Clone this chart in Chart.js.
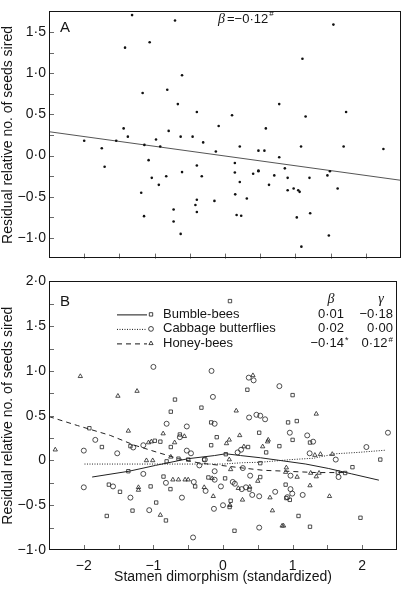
<!DOCTYPE html>
<html>
<head>
<meta charset="utf-8">
<title>Stamen dimorphism and seeds sired</title>
<script src="https://cdn.jsdelivr.net/npm/chart.js@4.4.1/dist/chart.umd.min.js"></script>
<style>
  body { margin: 0; background: #fff; }
  #wrap { position: relative; width: 405px; height: 589px; }
  canvas { position: absolute; left: 0; }
  #chartA { top: 0; }
  #chartB { top: 270px; }
</style>
</head>
<body>
<div id="wrap">
  <canvas id="chartA" width="405" height="270"></canvas>
  <canvas id="chartB" width="405" height="319"></canvas>
</div>
<script>
// ---- panel A: all pollinators pooled ----
var a_x = [-1.32,-0.71,-1.07,-1.42,-0.61,-0.82,-1.17,-0.67,-0.40,-0.09,-1.44,-0.80,-1.38,-0.63,-0.46,-2.00,-1.545,-0.98,-0.31,-1.75,
           -1.145,-0.92,-0.13,-1.71,-1.085,-0.40,-0.61,-0.33,-1.04,-0.835,-0.94,-1.19,-0.15,-0.40,-0.42,-0.40,-0.73,-1.15,-0.73,-0.63,
           1.54,1.10,0.77,0.10,1.145,1.72,0.58,0.21,0.475,0.56,1.08,1.685,2.25,0.77,0.14,0.14,0.40,0.475,0.475,0.70,
           0.85,0.89,1.20,1.455,1.49,0.21,0.625,0.89,0.975,1.04,1.06,1.60,0.145,0.31,0.165,0.23,1.21,1.02,1.475,1.085]
var a_y = [1.705,1.64,1.375,1.31,0.975,0.80,0.76,0.625,0.53,0.36,0.33,0.30,0.23,0.23,0.23,0.18,0.18,0.195,0.16,0.09,
           0.13,0.11,0.05,-0.135,-0.055,-0.12,-0.20,-0.25,-0.27,-0.25,-0.355,-0.45,-0.55,-0.535,-0.60,-0.685,-0.655,-0.735,-0.80,-0.95,
           1.59,1.175,0.625,0.49,0.475,0.53,0.33,0.11,0.06,0.06,0.11,0.11,0.08,-0.02,-0.09,-0.205,-0.22,-0.18,-0.19,-0.24,
           -0.155,-0.27,-0.27,-0.24,-0.19,-0.32,-0.355,-0.42,-0.40,-0.42,-0.44,-0.40,-0.47,-0.52,-0.72,-0.73,-0.70,-0.75,-0.97,-1.105]
var a_fit_x = [-2.5, 2.5]
var a_fit_y = [0.29, -0.30]

// ---- panel B: per pollinator ----
var bumble_x = [0.10,-0.69,0.35,1.00,-0.75,-0.31,0.935,1.06,-0.17,-1.92,-1.74,-1.67,-1.64,-1.48,-1.36,-1.30,-1.33,-0.98,-0.90,-1.04,
                -0.96,-0.855,-0.82,-0.81,-0.75,-0.755,-0.64,-0.62,-0.50,-0.40,-0.27,-0.21,-0.17,-0.09,0.03,0.04,0.11,0.095,0.165,0.36,
                0.38,0.52,0.535,0.535,0.62,0.81,0.90,0.91,0.96,1.00,1.085,1.25,1.25,1.65,1.755,1.86,1.975,2.26]
var bumble_y = [1.78,0.68,0.79,0.73,0.545,0.59,0.425,0.44,0.425,0.36,0.15,-0.62,-0.27,-0.35,-0.12,-0.56,0.16,0.22,0.21,-0.29,
                -0.47,-0.18,-0.67,-0.01,0.15,-0.32,0.02,0.29,0.01,-0.29,0.01,-0.19,0.17,0.26,-0.20,0.07,-0.45,-0.52,-0.785,0.15,
                -0.325,0.31,-0.03,-0.185,0.09,0.16,-0.27,-0.42,-0.44,0.23,-0.62,0.20,-0.74,-0.135,-0.14,-0.075,-0.64,0.01]
var cabbage_x = [-1.00,-0.165,0.37,0.44,0.81,-0.145,0.375,0.48,0.535,0.605,-0.81,-0.52,-0.12,-2.00,-2.00,-1.835,-1.58,-1.52,-1.33,-1.29,
                 -1.145,-1.145,-1.06,-0.82,-0.62,-0.59,-0.52,-0.46,-0.43,-0.42,-0.34,-0.26,-0.25,-0.12,-0.12,-0.13,-0.03,0.00,0.14,0.17,
                 0.21,0.26,0.285,0.27,0.33,0.39,0.42,0.52,0.52,0.75,0.96,0.97,0.97,0.995,0.925,1.145,1.21,1.245,1.295,1.62,
                 1.66,2.06,2.37]
var cabbage_y = [1.045,1.00,0.925,0.895,0.83,0.71,0.48,0.51,0.50,0.46,0.41,0.38,0.41,0.11,-0.30,0.23,-0.29,0.08,-0.415,0.145,
                 0.17,-0.15,-0.555,-0.25,0.26,-0.415,0.11,0.08,-0.86,-0.24,-0.055,0.01,-0.34,-0.12,-0.215,-0.54,-0.29,-0.50,-0.24,-0.26,
                 0.09,0.12,-0.085,-0.32,-0.30,-0.17,-0.385,-0.40,-0.75,-0.35,0.31,-0.17,-0.32,-0.37,-0.41,-0.385,0.28,0.08,0.21,0.01,
                 -0.185,0.15,0.31]
var honey_x = [-2.05,-1.51,-1.235,0.43,0.19,1.34,-2.41,-1.36,-1.215,-1.215,-1.10,-1.01,-1.07,-1.03,-0.90,-0.86,-0.75,-0.72,-0.64,-0.695,
               -0.555,-0.545,-0.50,-0.27,-0.155,-0.14,0.05,0.09,0.09,0.11,0.10,0.22,0.24,0.28,0.30,0.385,0.50,0.57,0.64,0.65,
               0.675,0.71,0.85,0.87,0.90,0.91,1.065,1.25,1.26,1.34,1.38,1.32,1.40,1.53,1.57]
var honey_y = [0.94,0.72,0.775,0.95,0.555,0.52,0.12,0.33,-0.30,-0.33,0.00,0.00,0.20,0.21,-0.61,0.30,0.04,-0.215,-0.215,0.20,
               0.27,-0.215,-0.215,-0.30,-0.20,-0.40,0.19,0.23,0.01,-0.10,-0.50,-0.31,0.28,-0.44,0.155,-0.295,-0.23,0.155,0.21,0.23,
               -0.415,-0.56,-0.73,-0.73,-0.13,-0.08,-0.185,-0.28,-0.14,-0.18,-0.14,0.06,0.07,-0.40,0.07]

var bumble_fit_x = [-1.88,-1.35,-0.97,-0.5,-0.12,0.04,0.25,0.54,0.82,1.19,1.52,1.85,2.24]
var bumble_fit_y = [-0.185,-0.12,-0.055,0.02,0.055,0.075,0.055,0.03,0.0,-0.04,-0.09,-0.15,-0.22]
var cabbage_fit_x = [-1.99,-1.0,0.0,0.28,0.54,0.98,1.3,1.62,1.94,2.34]
var cabbage_fit_y = [-0.04,-0.04,-0.04,-0.025,-0.02,0.01,0.025,0.075,0.09,0.115]
var honey_fit_x = [-2.5,-2.09,-1.62,-1.27,-0.94,-0.64,-0.33,-0.03,0.29,0.58,0.91,1.33,1.76]
var honey_fit_y = [0.49,0.39,0.28,0.17,0.09,0.02,-0.03,-0.055,-0.085,-0.11,-0.12,-0.135,-0.135]

var legend_names = ['Bumble-bees', 'Cabbage butterflies', 'Honey-bees']
var beta_vals = ['0·01', '0·02', '−0·14']
var beta_marks = ['', '', '*']
var gamma_vals = ['−0·18', '0·00', '0·12']
var gamma_marks = ['', '', '#']

var y_title = 'Residual relative no. of seeds sired'
var x_title = 'Stamen dimorphism (standardized)'

var sans = '"Liberation Sans", Arial, Helvetica, sans-serif'
var serif = '"Liberation Serif", "Times New Roman", serif'
var ink = '#151515'

function to_points(xs, ys) {
    var pts = []
    for (var i = 0; i < xs.length; i++) pts.push({x: xs[i], y: ys[i]})
    return pts
}

function fmt_num(v, zero_plain) {
    v = Math.round(v * 100) / 100
    if (v === 0 && zero_plain) return '0'
    return v.toFixed(1).replace('.', '·').replace('-', '−')
}

// frame + inward tick marks
const frame_plugin = {
  id: 'frame',
  afterDatasetsDraw: (chart) => {
    const ctx = chart.ctx
    const a = chart.chartArea
    const xs = chart.scales.x, ys = chart.scales.y
    ctx.save()
    ctx.strokeStyle = '#6a6a6a'
    ctx.lineWidth = 1
    ctx.beginPath()
    xs.ticks.forEach(function (t) {
        if (t.value <= xs.min + 1e-6 || t.value >= xs.max - 1e-6) return
        var px = Math.round(xs.getPixelForValue(t.value)) + 0.5
        ctx.moveTo(px, a.bottom)
        ctx.lineTo(px, a.bottom - 5)
    })
    ys.ticks.forEach(function (t) {
        if (t.value <= ys.min + 1e-6 || t.value >= ys.max - 1e-6) return
        var py = Math.round(ys.getPixelForValue(t.value)) + 0.5
        ctx.moveTo(a.left, py)
        ctx.lineTo(a.left + 5, py)
    })
    ctx.stroke()
    ctx.strokeStyle = ink
    ctx.strokeRect(Math.round(a.left) + 0.5, Math.round(a.top) + 0.5,
                   Math.round(a.right - a.left) - 1, Math.round(a.bottom - a.top) - 1)
    ctx.restore()
  }
}

const notes_a = {
  id: 'notes_a',
  afterDraw: (chart) => {
    const ctx = chart.ctx
    const a = chart.chartArea
    ctx.save()
    ctx.fillStyle = ink
    ctx.textBaseline = 'middle'
    ctx.font = '15px ' + sans
    ctx.fillText('A', a.left + 11, a.top + 16)
    ctx.font = 'italic 14px ' + serif
    ctx.fillText('β', 218, 19)
    ctx.font = '13px ' + sans
    ctx.fillText('=−0·12', 227, 19)
    var w = ctx.measureText('=−0·12').width
    ctx.font = '8px ' + sans
    ctx.fillText('#', 227 + w + 1, 14)
    ctx.restore()
  }
}

const notes_b = {
  id: 'notes_b',
  afterDraw: (chart) => {
    const ctx = chart.ctx
    const a = chart.chartArea
    const top = a.top
    const rows = [top + 33, top + 47.5, top + 62]
    const styles = ['rect', 'circle', 'triangle']
    const dashes = [[], [1, 1.5], [5, 4]]
    ctx.save()
    ctx.fillStyle = ink
    ctx.textBaseline = 'middle'
    ctx.font = '15px ' + sans
    ctx.fillText('B', a.left + 11, top + 20)
    ctx.font = 'italic 14px ' + serif
    ctx.textAlign = 'center'
    ctx.fillText('β', 331, top + 18)
    ctx.fillText('γ', 381, top + 18)
    for (var i = 0; i < 3; i++) {
        var ry = rows[i]
        ctx.strokeStyle = ink
        ctx.lineWidth = 1
        ctx.setLineDash(dashes[i])
        ctx.beginPath()
        ctx.moveTo(117, ry + 0.5)
        ctx.lineTo(147, ry + 0.5)
        ctx.stroke()
        ctx.setLineDash([])
        ctx.lineWidth = 0.8
        ctx.fillStyle = 'rgba(0,0,0,0)'
        Chart.helpers.drawPoint(ctx, {pointStyle: styles[i], radius: 2.4, borderWidth: 0.8, rotation: 0}, 151, ry)
        ctx.fillStyle = ink
        ctx.font = '13px ' + sans
        ctx.textAlign = 'left'
        ctx.fillText(legend_names[i], 163, ry)
        ctx.textAlign = 'right'
        ctx.fillText(beta_vals[i], 344, ry)
        var gw = 0
        if (gamma_marks[i]) {
            ctx.font = '8px ' + sans
            gw = ctx.measureText(gamma_marks[i]).width + 1
            ctx.textAlign = 'left'
            ctx.fillText(gamma_marks[i], 393 - gw + 1, ry - 4)
            ctx.font = '13px ' + sans
        }
        ctx.textAlign = 'right'
        ctx.fillText(gamma_vals[i], 393 - gw, ry)
        if (beta_marks[i]) {
            ctx.font = '9px ' + sans
            ctx.textAlign = 'left'
            ctx.fillText(beta_marks[i], 345, ry - 3)
        }
    }
    ctx.restore()
  }
}

function y_axis(min, max, zero_plain) {
    return {
        type: 'linear', min: min, max: max,
        grid: {display: false, drawTicks: false},
        border: {display: false},
        ticks: {
            stepSize: 0.25, padding: 3, color: ink,
            font: {family: sans, size: 14},
            callback: function (v) {
                var q = Math.round(v * 4)
                if (q % 2 !== 0) return ''
                return fmt_num(v, zero_plain)
            }
        },
        title: {display: true, text: y_title, color: ink, font: {family: sans, size: 14}, padding: {top: 0, bottom: 0}},
        afterFit: function (scale) { scale.width = 49 }
    }
}

function scatter_set(xs, ys, style, radius) {
    return {
        data: to_points(xs, ys), pointStyle: style, pointRadius: radius,
        pointBorderWidth: 0.8, pointBorderColor: '#222', pointBackgroundColor: 'rgba(0,0,0,0)',
        showLine: false
    }
}

function fit_set(xs, ys, dash, color) {
    return {
        data: to_points(xs, ys), showLine: true, pointRadius: 0, borderWidth: 1,
        borderColor: color, borderDash: dash, fill: false, tension: 0
    }
}

var chart_a = new Chart(document.getElementById('chartA'), {
    type: 'scatter',
    data: {
        datasets: [
            {data: to_points(a_x, a_y), pointRadius: 1.3, pointBorderWidth: 0,
             pointBackgroundColor: '#111', showLine: false},
            fit_set(a_fit_x, a_fit_y, [], '#555')
        ]
    },
    options: {
        responsive: false, animation: false, devicePixelRatio: 1,
        layout: {padding: {top: 0, right: 1, left: 0, bottom: 0}},
        plugins: {legend: {display: false}, tooltip: {enabled: false}},
        scales: {
            x: {
                type: 'linear', min: -2.5, max: 2.5,
                grid: {display: false, drawTicks: false}, border: {display: false},
                ticks: {stepSize: 0.5, display: false},
                afterFit: function (scale) { scale.height = 4 }
            },
            y: y_axis(-1.25, 1.75, false)
        }
    },
    plugins: [frame_plugin, notes_a]
})

var chart_b = new Chart(document.getElementById('chartB'), {
    type: 'scatter',
    data: {
        datasets: [
            scatter_set(bumble_x, bumble_y, 'rect', 2.4),
            scatter_set(cabbage_x, cabbage_y, 'circle', 2.5),
            scatter_set(honey_x, honey_y, 'triangle', 2.5),
            fit_set(bumble_fit_x, bumble_fit_y, [], '#222'),
            fit_set(cabbage_fit_x, cabbage_fit_y, [1, 1.5], '#222'),
            fit_set(honey_fit_x, honey_fit_y, [5, 4], '#222')
        ]
    },
    options: {
        responsive: false, animation: false, devicePixelRatio: 1,
        layout: {padding: {top: 10, right: 1, left: 0, bottom: 0}},
        plugins: {legend: {display: false}, tooltip: {enabled: false}},
        scales: {
            x: {
                type: 'linear', min: -2.5, max: 2.5,
                grid: {display: false, drawTicks: false}, border: {display: false},
                ticks: {
                    stepSize: 0.5, padding: 8, color: ink, maxRotation: 0, autoSkip: false,
                    font: {family: sans, size: 14},
                    callback: function (v) {
                        var q = Math.round(v * 2)
                        if (q % 2 !== 0) return ''
                        return String(Math.round(v)).replace('-', '−')
                    }
                },
                title: {display: true, text: x_title, color: ink, font: {family: sans, size: 14}, padding: {top: 0, bottom: 3}},
                afterFit: function (scale) { scale.height = 39 }
            },
            y: y_axis(-1.0, 2.0, true)
        }
    },
    plugins: [frame_plugin, notes_b]
})
</script>
</body>
</html>
